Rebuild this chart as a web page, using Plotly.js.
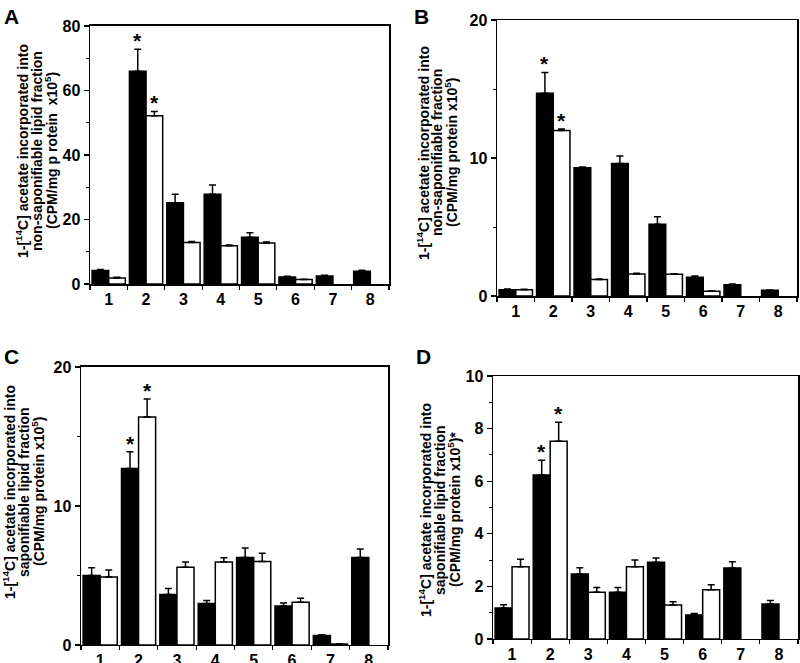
<!DOCTYPE html>
<html><head><meta charset="utf-8">
<script src="https://cdn.plot.ly/plotly-3.0.1.min.js"></script>
<style>html,body{margin:0;padding:0;background:#fff}#chart{width:800px;height:663px}</style>
</head><body><div id="chart"></div>
<script>
// ---- data ----
const groups = ['1','2','3','4','5','6','7','8'];

const aBlack    = [4.2, 66.0, 25.2, 27.8, 14.5, 2.2, 2.5, 4.0];
const aBlackErr = [0.3, 6.8, 2.6, 2.9, 1.4, 0.2, 0.2, 0.3];
const aWhite    = [1.9, 52.2, 12.9, 11.9, 12.7, 1.4, null, null];
const aWhiteErr = [0.2, 1.3, 0.3, 0.2, 0.3, 0.1, null, null];

const bBlack    = [0.46, 14.7, 9.3, 9.6, 5.2, 1.35, 0.82, 0.41];
const bBlackErr = [0.05, 1.5, 0.05, 0.55, 0.55, 0.1, 0.05, 0.03];
const bWhite    = [0.46, 12.0, 1.2, 1.6, 1.57, 0.34, null, null];
const bWhiteErr = [0.03, 0.1, 0.03, 0.05, 0.04, 0.03, null, null];

const cBlack    = [5.0, 12.7, 3.63, 2.98, 6.3, 2.8, 0.69, 6.3];
const cBlackErr = [0.56, 1.2, 0.43, 0.22, 0.67, 0.23, 0.05, 0.6];
const cWhite    = [4.9, 16.4, 5.6, 5.97, 6.0, 3.08, 0.07, null];
const cWhiteErr = [0.5, 1.3, 0.37, 0.31, 0.6, 0.29, 0.02, null];

const dBlack    = [1.18, 6.24, 2.47, 1.78, 2.92, 0.91, 2.7, 1.33];
const dBlackErr = [0.12, 0.56, 0.24, 0.18, 0.16, 0.06, 0.24, 0.13];
const dWhite    = [2.75, 7.52, 1.78, 2.75, 1.29, 1.87, null, null];
const dWhiteErr = [0.28, 0.72, 0.18, 0.25, 0.13, 0.19, null, null];

const starBlack = ['2'];
const starWhite = ['2'];

const titleA = ['1-[<sup>14</sup>C] acetate incorporated into', 'non-saponifiable lipid fraction', '(CPM/mg p rotein\u00a0\u00a0x10<sup>5</sup>)'];
const titleB = ['1-[<sup>14</sup>C] acetate incorporated into', 'non-saponifiable fraction', '(CPM/mg protein x10<sup>5</sup>)'];
const titleC = ['1-[<sup>14</sup>C] acetate incorporated into', 'saponifiable lipid fraction', '(CPM/mg protein x10<sup>5</sup>)'];
const titleD = ['1-[<sup>14</sup>C] acetate incorporated into', 'saponifiable lipid fraction', '(CPM/mg protein x10<sup>5</sup>)*'];

// ---- styling ----
const W = 800, H = 663;
const FAM = 'Liberation Sans, Arial, sans-serif';
const bargap = 0.11;
const off = (1 - bargap) / 4;

const panels = [
  {k:'', black:aBlack, be:aBlackErr, white:aWhite, we:aWhiteErr, title:titleA, range:[0,80], dtick:20, minor:10,
   xd:[0.1125,0.48625], yd:[0.5716,0.9608], letter:'A', lx:2, ly:3, tx:[22,37,51], ty:151},
  {k:'2', black:bBlack, be:bBlackErr, white:bWhite, we:bWhiteErr, title:titleB, range:[0,20], dtick:10, minor:5,
   xd:[0.62125,0.99625], yd:[0.55354,0.96983], letter:'B', lx:412, ly:3, tx:[423,437,451], ty:153},
  {k:'3', black:cBlack, be:cBlackErr, white:cWhite, we:cWhiteErr, title:titleC, range:[0,20], dtick:10, minor:5,
   xd:[0.10125,0.485], yd:[0.02715,0.44646], letter:'C', lx:2, ly:343, tx:[9,24,38], ty:492},
  {k:'4', black:dBlack, be:dBlackErr, white:dWhite, we:dWhiteErr, title:titleD, range:[0,10], dtick:2, minor:1,
   xd:[0.61625,0.9975], yd:[0.0362,0.43288], letter:'D', lx:414, ly:343, tx:[425,440,454], ty:510}
];

const traces = [];
const layout = {
  width:W, height:H, margin:{l:0,r:0,t:0,b:0},
  paper_bgcolor:'#fff', plot_bgcolor:'#fff', showlegend:false,
  barmode:'group', bargap:bargap, bargroupgap:0,
  font:{family:FAM, color:'#000'},
  annotations:[]
};

panels.forEach(p => {
  const xa = 'x'+p.k, ya = 'y'+p.k;
  const errStyle = (arr) => ({type:'data', symmetric:false, array:arr, arrayminus:arr.map(v=>v==null?null:0),
                              color:'#000', thickness:1.5, width:3.5, visible:true});
  traces.push({type:'bar', x:groups, y:p.black, xaxis:xa, yaxis:ya,
    marker:{color:'#000', line:{color:'#000', width:1.5}}, error_y:errStyle(p.be), hoverinfo:'y'});
  traces.push({type:'bar', x:groups, y:p.white, xaxis:xa, yaxis:ya,
    marker:{color:'#fff', line:{color:'#000', width:1.5}}, error_y:errStyle(p.we), hoverinfo:'y'});

  layout['xaxis'+p.k] = {
    domain:p.xd, anchor:ya, type:'category', categoryorder:'array', categoryarray:groups,
    tickson:'boundaries', ticks:'outside', ticklen:4, tickwidth:1.2, tickcolor:'#000',
    showline:true, linecolor:'#000', linewidth:1.5, mirror:true, showgrid:false, zeroline:false,
    tickfont:{family:FAM, size:16, weight:'bold', color:'#000'}, automargin:false, fixedrange:true
  };
  layout['yaxis'+p.k] = {
    domain:p.yd, anchor:xa, range:p.range, dtick:p.dtick, tick0:0,
    ticks:'outside', ticklen:5, tickwidth:1.2, tickcolor:'#000',
    minor:{dtick:p.minor, tick0:0, ticks:'outside', ticklen:3, tickwidth:1, tickcolor:'#000', showgrid:false},
    showline:true, linecolor:'#000', linewidth:1.5, mirror:true, showgrid:false, zeroline:false,
    tickfont:{family:FAM, size:16, weight:'bold', color:'#000'}, automargin:false, fixedrange:true
  };

  // y-axis title, one rotated line each (tight line spacing as in the reference)
  p.title.forEach((line, j) => {
    layout.annotations.push({xref:'paper', yref:'paper', x:p.tx[j]/W, y:1-p.ty/H, xanchor:'center', yanchor:'middle',
      text:line, textangle:-90, showarrow:false, font:{family:FAM, size:14, weight:'bold', color:'#000'}});
  });

  // significance asterisks
  starBlack.forEach(g => {
    const i = groups.indexOf(g);
    layout.annotations.push({xref:xa, yref:ya, x:i-off, y:p.black[i]+p.be[i], text:'*', showarrow:false,
      yanchor:'bottom', yshift:-5, font:{family:FAM, size:21, weight:'bold', color:'#000'}});
  });
  starWhite.forEach(g => {
    const i = groups.indexOf(g);
    layout.annotations.push({xref:xa, yref:ya, x:i+off, y:p.white[i]+p.we[i], text:'*', showarrow:false,
      yanchor:'bottom', yshift:-5, font:{family:FAM, size:21, weight:'bold', color:'#000'}});
  });
  // panel letter
  layout.annotations.push({xref:'paper', yref:'paper', x:p.lx/W, y:1-p.ly/H, xanchor:'left', yanchor:'top',
    text:p.letter, showarrow:false, font:{family:FAM, size:21, weight:'bold', color:'#000'}});
});

Plotly.newPlot('chart', traces, layout, {displayModeBar:false, staticPlot:true});
</script>
</body></html>
